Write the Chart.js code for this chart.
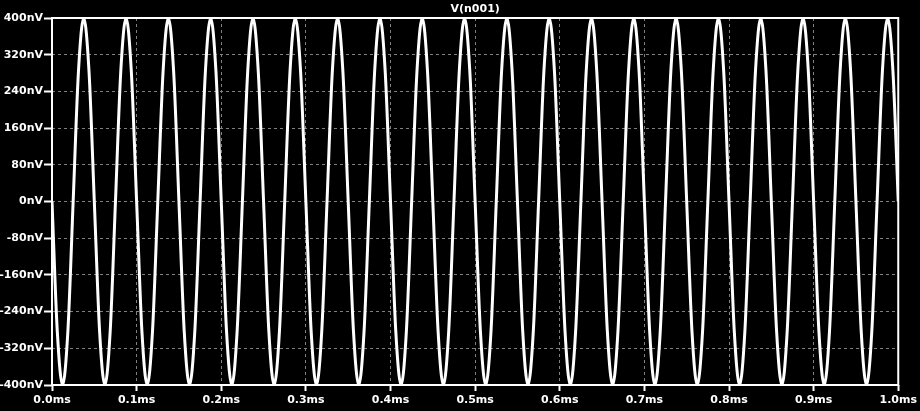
<!DOCTYPE html>
<html>
<head>
<meta charset="utf-8">
<script src="https://cdn.jsdelivr.net/npm/chart.js@4"></script>
<style>
  html, body { margin: 0; padding: 0; background: #000; }
  #wrap { width: 920px; height: 411px; position: relative; }
</style>
</head>
<body>
<div id="wrap"><canvas id="waveChart"></canvas></div>
<script>
// V(n001) transient trace, 0..1 ms, sampled every 6.25 us (values in nV)
const traceName = 'V(n001)';
const sampleStepMs = 0.00625;
const voltages = [
  0, -283, -400, -283, 0, 283, 400, 283,
  0, -283, -400, -283, 0, 283, 400, 283,
  0, -283, -400, -283, 0, 283, 400, 283,
  0, -283, -400, -283, 0, 283, 400, 283,
  0, -283, -400, -283, 0, 283, 400, 283,
  0, -283, -400, -283, 0, 283, 400, 283,
  0, -283, -400, -283, 0, 283, 400, 283,
  0, -283, -400, -283, 0, 283, 400, 283,
  0, -283, -400, -283, 0, 283, 400, 283,
  0, -283, -400, -283, 0, 283, 400, 283,
  0, -283, -400, -283, 0, 283, 400, 283,
  0, -283, -400, -283, 0, 283, 400, 283,
  0, -283, -400, -283, 0, 283, 400, 283,
  0, -283, -400, -283, 0, 283, 400, 283,
  0, -283, -400, -283, 0, 283, 400, 283,
  0, -283, -400, -283, 0, 283, 400, 283,
  0, -283, -400, -283, 0, 283, 400, 283,
  0, -283, -400, -283, 0, 283, 400, 283,
  0, -283, -400, -283, 0, 283, 400, 283,
  0, -283, -400, -283, 0, 283, 400, 283,
  0
];
const yTicks = [-400, -320, -240, -160, -80, 0, 80, 160, 240, 320, 400];
const xTicks = [0.0, 0.1, 0.2, 0.3, 0.4, 0.5, 0.6, 0.7, 0.8, 0.9, 1.0];

const points = voltages.map((v, i) => ({ x: i * sampleStepMs, y: v }));

const labelFont = { family: 'DejaVu Sans', size: 11, weight: 'bold', lineHeight: '13px' };

// white frame around the plot, drawn over the trace
const frame = {
  id: 'frame',
  afterDatasetsDraw(chart) {
    const a = chart.chartArea, c = chart.ctx;
    c.save();
    c.strokeStyle = '#fff';
    c.lineWidth = 2;
    c.strokeRect(a.left, a.top, a.right - a.left, a.bottom - a.top);
    c.restore();
  }
};

const ctx = document.getElementById('waveChart').getContext('2d');

new Chart(ctx, {
  type: 'line',
  data: {
    datasets: [
      {
        label: traceName,
        data: points,
        borderColor: '#fff',
        borderWidth: 3,
        pointRadius: 0,
        cubicInterpolationMode: 'monotone',
        fill: false,
      },
    ],
  },
  options: {
    responsive: true,
    maintainAspectRatio: false,
    animation: false,
    layout: { padding: { top: 0, right: 20, bottom: 0, left: 0 } },
    plugins: {
      legend: { display: false },
      tooltip: { enabled: false },
      title: {
        display: true,
        text: traceName,
        color: '#fff',
        fullSize: false,
        font: labelFont,
        padding: { top: 3, bottom: 2 },
      },
    },
    scales: {
      x: {
        type: 'linear',
        min: 0,
        max: 1,
        afterBuildTicks: (s) => { s.ticks = xTicks.map(v => ({ value: v })); },
        afterFit: (s) => { s.height = 26; },
        ticks: {
          color: '#fff',
          font: labelFont,
          padding: 3,
          maxRotation: 0,
          callback: (v) => v.toFixed(1) + 'ms',
        },
        grid: {
          color: 'rgb(128,128,128)',
          lineWidth: 1,
          tickColor: '#fff',
          tickLength: 6,
          tickWidth: 2,
          tickBorderDash: [],
        },
        border: { display: false, dash: [3, 3] },
      },
      y: {
        min: -400,
        max: 400,
        afterBuildTicks: (s) => { s.ticks = yTicks.map(v => ({ value: v })); },
        afterFit: (s) => { s.width = 52; },
        ticks: {
          color: '#fff',
          font: labelFont,
          padding: 1,
          callback: (v) => v + 'nV',
        },
        grid: {
          color: 'rgb(128,128,128)',
          lineWidth: 1,
          tickColor: '#fff',
          tickLength: 8,
          tickWidth: 2,
          tickBorderDash: [],
        },
        border: { display: false, dash: [3, 3] },
      },
    },
  },
  plugins: [frame],
});
</script>
</body>
</html>
